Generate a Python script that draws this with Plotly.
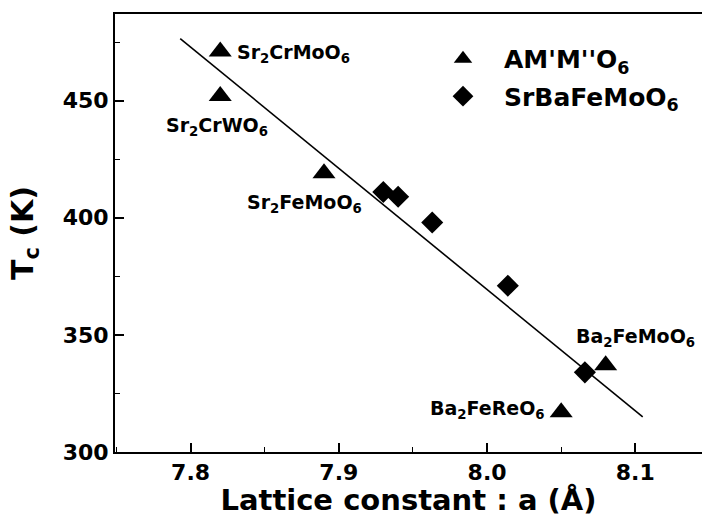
import plotly.graph_objects as go

# Data
tri_names = ["Sr<sub>2</sub>CrMoO<sub>6</sub>", "Sr<sub>2</sub>CrWO<sub>6</sub>",
             "Sr<sub>2</sub>FeMoO<sub>6</sub>", "Ba<sub>2</sub>FeReO<sub>6</sub>",
             "Ba<sub>2</sub>FeMoO<sub>6</sub>"]
tri_x = [7.82, 7.82, 7.89, 8.05, 8.08]
tri_y = [471, 452, 419, 317, 337]

dia_x = [7.93, 7.94, 7.963, 8.014, 8.066]
dia_y = [411, 409, 398, 371, 334]

fit_x = [7.793, 8.105]
fit_y = [476.5, 315]

x_ticks = [7.8, 7.9, 8.0, 8.1]
x_ticklabels = ["7.8", "7.9", "8.0", "8.1"]
y_ticks = [300, 350, 400, 450]

# label placement (data coords) and anchors
lab_x = [7.830, 7.818, 7.877, 8.000, 8.100]
lab_y = [470, 439, 406, 318, 349]
lab_anchor = ["left", "center", "center", "center", "center"]

FONT = "DejaVu Sans, Verdana, sans-serif"

fig = go.Figure()

fig.add_trace(go.Scatter(
    x=fit_x, y=fit_y, mode="lines",
    line=dict(color="black", width=1.6), showlegend=False, hoverinfo="skip"))

fig.add_trace(go.Scatter(
    x=tri_x, y=tri_y, mode="markers", name="AM'M''O<sub>6</sub>", legendgroup="a",
    marker=dict(symbol="triangle-up", size=20, color="black")))

fig.add_trace(go.Scatter(
    x=dia_x, y=dia_y, mode="markers", name="SrBaFeMoO<sub>6</sub>", legendgroup="b",
    marker=dict(symbol="diamond", size=17, color="black")))

for t, x, y, a in zip(tri_names, lab_x, lab_y, lab_anchor):
    fig.add_annotation(x=x, y=y, text=t, showarrow=False, xanchor=a, yanchor="middle",
                       font=dict(family=FONT, size=19, color="black", weight="bold"))

fig.update_layout(
    width=702, height=517,
    margin=dict(l=115, r=0, t=14, b=65),
    paper_bgcolor="white", plot_bgcolor="white",
    font=dict(family=FONT, color="black"),
    legend=dict(x=0.523, y=0.95, xanchor="left", yanchor="top",
                font=dict(family=FONT, size=25, color="black", weight="bold"),
                bgcolor="rgba(0,0,0,0)", tracegroupgap=2, itemwidth=72),
    xaxis=dict(range=[7.749, 8.145], tickvals=x_ticks, ticktext=x_ticklabels,
               ticks="inside", ticklen=9, tickwidth=1.5, tickcolor="black",
               minor=dict(ticks="inside", ticklen=5, tickwidth=1.2, dtick=0.05, tickcolor="black"),
               showline=True, linecolor="black", linewidth=2, mirror=True,
               showgrid=False, zeroline=False,
               tickfont=dict(family=FONT, size=22, color="black", weight="bold"),
               title=dict(text="Lattice constant : a (Å)", standoff=9,
                          font=dict(family=FONT, size=29, color="black", weight="bold"))),
    yaxis=dict(range=[300, 487], tickvals=y_ticks,
               ticks="inside", ticklen=9, tickwidth=1.5, tickcolor="black",
               minor=dict(ticks="inside", ticklen=5, tickwidth=1.2, dtick=25, tickcolor="black"),
               showline=True, linecolor="black", linewidth=2, mirror=False,
               showgrid=False, zeroline=False,
               tickfont=dict(family=FONT, size=22, color="black", weight="bold"),
               title=dict(text="T<sub>c</sub> (K)", standoff=20,
                          font=dict(family=FONT, size=30, color="black", weight="bold"))),
)

fig.write_html("out.html")
